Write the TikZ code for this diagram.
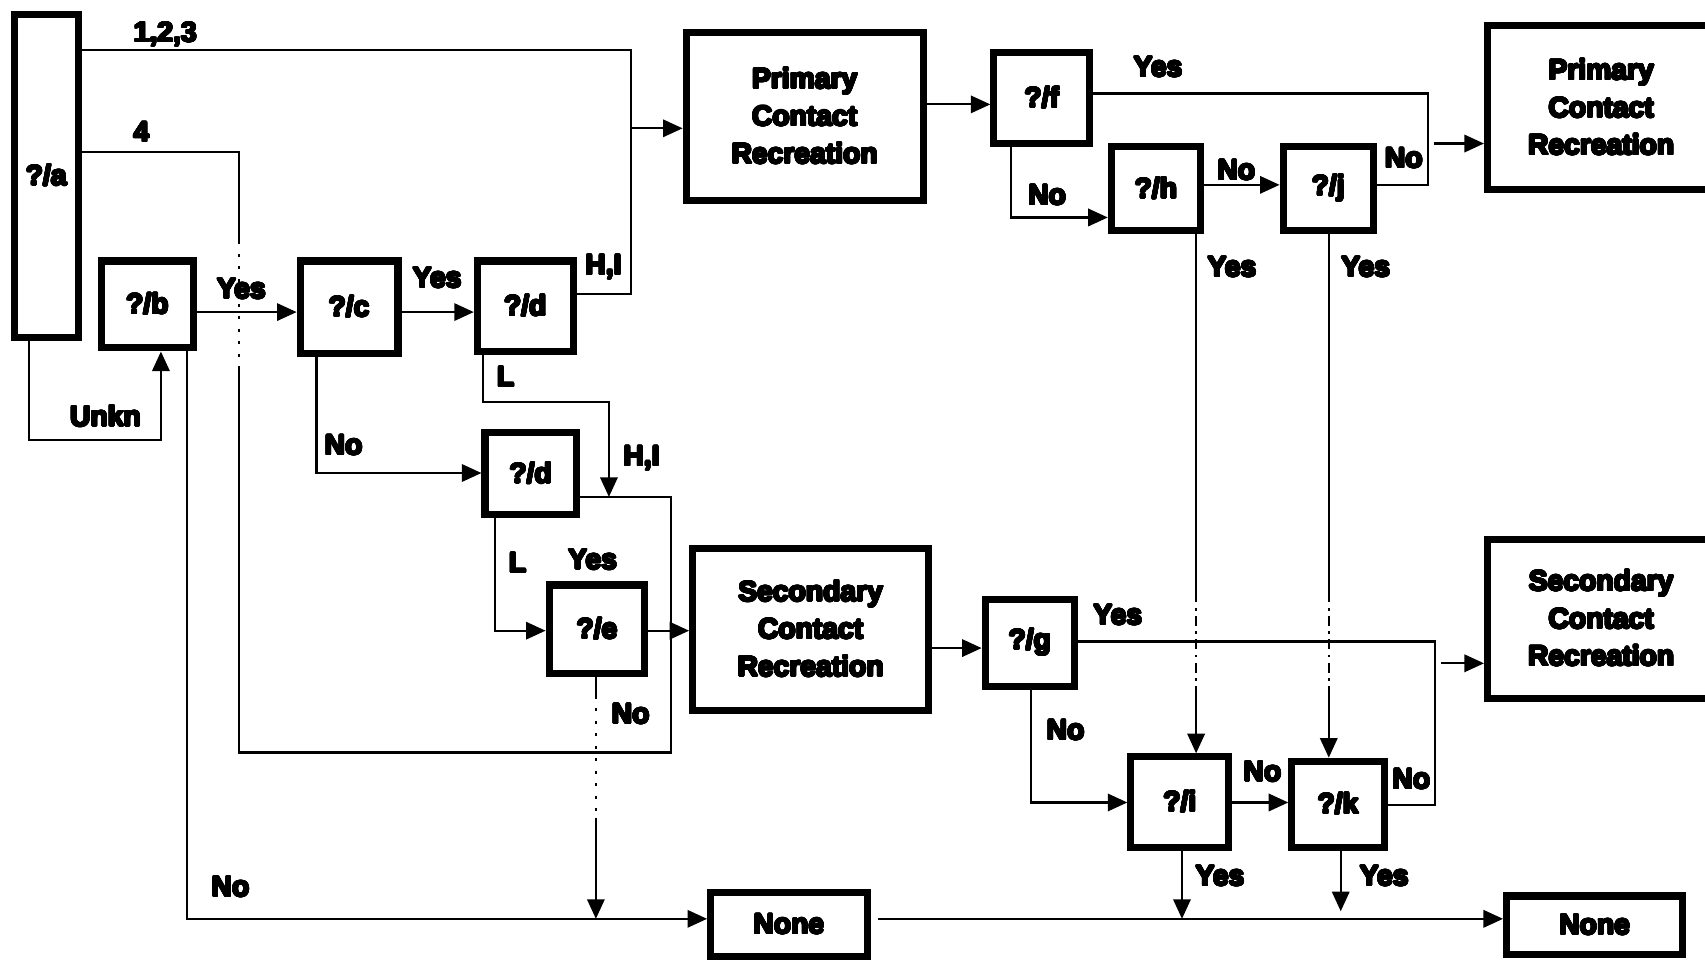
\documentclass[tikz,border=0pt]{standalone}
\usepackage{fontspec}
\newfontfamily\heavy{Liberation Sans}
\usepackage{contour}
\contourlength{0.9pt}
\contournumber{24}
\newcommand{\hv}[1]{\contour{black}{#1}}
\usetikzlibrary{arrows.meta}
\begin{document}
\begin{tikzpicture}[x=1pt,y=-1pt,
  box/.style={draw, line width=6.5pt, inner sep=0pt, align=center,
    font=\heavy\bfseries\fontsize{26}{34.5}\selectfont},
  conn/.style={line width=2pt},
  arr/.style={conn, -{Triangle[length=18pt,width=16pt]}},
  hop/.style={line width=2pt, dash pattern=on 2.5pt off 9pt},
  hopb/.style={line width=2pt, dash pattern=on 9pt off 5pt on 2.5pt off 5pt},
  lbl/.style={inner sep=0pt, font=\heavy\bfseries\fontsize{26}{30}\selectfont}]
\useasboundingbox (0,0) rectangle (1568,885);
\fill[white] (0,0) rectangle (1568,885);

% boxes
\node[box, minimum width=59pt, minimum height=297pt] (a) at (42.5,161.5) {\hv{?/a}};
\node[box, minimum width=85pt, minimum height=80pt] (b) at (135.5,280) {\hv{?/b}};
\node[box, minimum width=90pt, minimum height=85pt] (c) at (321,282.5) {\hv{?/c}};
\node[box, minimum width=88pt, minimum height=83pt] (d1) at (483,281.5) {\hv{?/d}};
\node[box, minimum width=84pt, minimum height=75pt] (d2) at (488,435.5) {\hv{?/d}};
\node[box, minimum width=88pt, minimum height=81pt] (e) at (549,578.5) {\hv{?/e}};
\node[box, minimum width=218pt, minimum height=154pt] (PCR1) at (740,107) {\hv{Primary}\\\hv{Contact}\\\hv{Recreation}};
\node[box, minimum width=217pt, minimum height=149pt] (SCR1) at (745.5,578.5) {\hv{Secondary}\\\hv{Contact}\\\hv{Recreation}};
\node[box, minimum width=88pt, minimum height=84pt] (f) at (958,90) {\hv{?/f}};
\node[box, minimum width=82pt, minimum height=77pt] (h) at (1063,173.5) {\hv{?/h}};
\node[box, minimum width=83pt, minimum height=77pt] (j) at (1221.5,173.5) {\hv{?/j}};
\node[box, minimum width=209pt, minimum height=151pt] (PCR2) at (1472.5,99) {\hv{Primary}\\\hv{Contact}\\\hv{Recreation}};
\node[box, minimum width=82pt, minimum height=80pt] (g) at (947,591) {\hv{?/g}};
\node[box, minimum width=90pt, minimum height=83pt] (i) at (1085,737.5) {\hv{?/i}};
\node[box, minimum width=85pt, minimum height=79pt] (k) at (1230.5,739.5) {\hv{?/k}};
\node[box, minimum width=209pt, minimum height=146pt] (SCR2) at (1472.5,569) {\hv{Secondary}\\\hv{Contact}\\\hv{Recreation}};
\node[box, minimum width=144pt, minimum height=59pt] (None1) at (725.5,850.5) {\hv{None}};
\node[box, minimum width=162pt, minimum height=54pt] (None2) at (1466.5,851) {\hv{None}};

% a: 1,2,3
\coordinate (t1) at (580,46);
\coordinate (t2) at (580,270);
\coordinate (t3) at (580,118);
\draw[conn] (a.east |- t1) -- (t1) -- (t2) -- (d1.east |- t2);
\draw[arr] (t3) -- (PCR1.west |- t3);

% a: 4
\coordinate (q1) at (220,140);
\coordinate (q2) at (220,222);
\coordinate (q3) at (220,338);
\coordinate (q4) at (220,692);
\coordinate (q5) at (617,692);
\coordinate (q6) at (617,457);
\draw[conn] (a.east |- q1) -- (q1) -- (q2);
\draw[hop] (q2) -- (q3);
\draw[conn] (q3) -- (q4) -- (q5) -- (q6) -- (d2.east |- q6);

% Unkn
\coordinate (u1) at (27,405);
\coordinate (u2) at (148,405);
\draw[arr] (a.south -| u1) -- (u1) -- (u2) -- (b.south -| u2);

% b Yes, c Yes
\coordinate (y1) at (0,287);
\draw[arr] (b.east |- y1) -- (c.west |- y1);
\draw[arr] (c.east |- y1) -- (d1.west |- y1);

% c No
\coordinate (n1) at (291,435);
\draw[arr] (c.south -| n1) -- (n1) -- (d2.west |- n1);

% d1 L
\coordinate (l1) at (444,370);
\coordinate (l2) at (560,370);
\coordinate (l3) at (560,457);
\draw[arr] (d1.south -| l1) -- (l1) -- (l2) -- (l3);

% d2 L
\coordinate (l4) at (455,580);
\draw[arr] (d2.south -| l4) -- (l4) -- (e.west |- l4);
\draw[arr] (e.east |- l4) -- (SCR1.west |- l4);

% e No
\coordinate (m1) at (548,640);
\coordinate (m2) at (548,752);
\coordinate (m3) at (548,845);
\draw[conn] (e.south -| m1) -- (m1);
\draw[hop] (m1) -- (m2);
\draw[arr] (m2) -- (m3);

% b No
\coordinate (bn1) at (172,845);
\draw[arr] (b.south -| bn1) -- (bn1) -- (None1.west |- bn1);
\draw[arr, shorten <=7pt] (None1.east |- bn1) -- (None2.west |- bn1);

% PCR1 -> f
\coordinate (pf) at (0,96);
\draw[arr] (PCR1.east |- pf) -- (f.west |- pf);

% f Yes / j No
\coordinate (fy1) at (1313,86);
\coordinate (fy2) at (1313,170);
\coordinate (fy3) at (1319,132);
\draw[conn] (f.east |- fy1) -- (fy1) -- (fy2) -- (j.east |- fy2);
\draw[arr] (fy3) -- (PCR2.west |- fy3);

% f No
\coordinate (fn) at (930,200);
\draw[arr] (f.south -| fn) -- (fn) -- (h.west |- fn);

% h No
\coordinate (hn) at (0,170);
\draw[arr] (h.east |- hn) -- (j.west |- hn);

% h Yes
\coordinate (hy1) at (1100,545);
\coordinate (hy2) at (1100,632);
\draw[conn] (h.south -| hy1) -- (hy1);
\draw[hopb] (hy1) -- (hy2);
\draw[arr] (hy2) -- (i.north -| hy2);

% j Yes
\coordinate (jy1) at (1222,545);
\coordinate (jy2) at (1222,632);
\draw[conn] (j.south -| jy1) -- (jy1);
\draw[hopb] (jy1) -- (jy2);
\draw[arr] (jy2) -- (k.north -| jy2);

% SCR1 -> g
\coordinate (sg) at (0,596);
\draw[arr] (SCR1.east |- sg) -- (g.west |- sg);

% g Yes / k No
\coordinate (gy1) at (1320,590);
\coordinate (gy2) at (1320,740);
\coordinate (gy3) at (1325,610);
\draw[conn] (g.east |- gy1) -- (gy1) -- (gy2) -- (k.east |- gy2);
\draw[arr] (gy3) -- (SCR2.west |- gy3);

% g No
\coordinate (gn) at (948,738);
\draw[arr] (g.south -| gn) -- (gn) -- (i.west |- gn);
\draw[arr] (i.east |- gn) -- (k.west |- gn);

% i Yes, k Yes
\coordinate (iy) at (1087,845);
\coordinate (ky) at (1233,838);
\draw[arr] (i.south -| iy) -- (iy);
\draw[arr] (k.south -| ky) -- (ky);

% labels
\node[lbl] (L1) at (152,32) {\hv{1,2,3}};
\node[lbl] (L2) at (130,122) {\hv{4}};
\node[lbl] (L3) at (97,383) {\hv{Unkn}};
\node[lbl] (L4) at (222,266) {\hv{Yes}};
\node[lbl] (L5) at (402,256) {\hv{Yes}};
\node[lbl] (L6) at (555,246) {\hv{H,I}};
\node[lbl] (L7) at (465,347) {\hv{L}};
\node[lbl] (L8) at (316,410) {\hv{No}};
\node[lbl] (L9) at (590,422) {\hv{H,I}};
\node[lbl] (L10) at (476,518) {\hv{L}};
\node[lbl] (L11) at (545,515) {\hv{Yes}};
\node[lbl] (L12) at (580,657) {\hv{No}};
\node[lbl] (L13) at (212,816) {\hv{No}};
\node[lbl] (L14) at (1065,62) {\hv{Yes}};
\node[lbl] (L15) at (963,180) {\hv{No}};
\node[lbl] (L16) at (1137,157) {\hv{No}};
\node[lbl] (L17) at (1291,146) {\hv{No}};
\node[lbl] (L18) at (1133,246) {\hv{Yes}};
\node[lbl] (L19) at (1256,246) {\hv{Yes}};
\node[lbl] (L20) at (1028,566) {\hv{Yes}};
\node[lbl] (L21) at (980,672) {\hv{No}};
\node[lbl] (L22) at (1161,710) {\hv{No}};
\node[lbl] (L23) at (1298,717) {\hv{No}};
\node[lbl] (L24) at (1122,806) {\hv{Yes}};
\node[lbl] (L25) at (1273,806) {\hv{Yes}};
\end{tikzpicture}
\end{document}
